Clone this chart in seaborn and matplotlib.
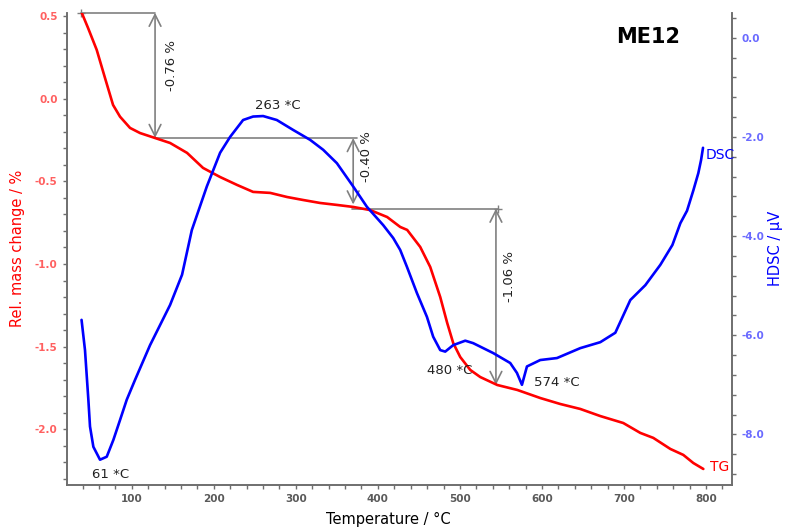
import numpy as np
import pandas as pd
import matplotlib
matplotlib.use("Agg")
import matplotlib.pyplot as plt
from matplotlib.ticker import MultipleLocator, FixedLocator, FormatStrFormatter
import seaborn as sns

# ---------------- data ----------------
tg_temp = [39.0, 46.7, 57.3, 67.4, 77.2, 85.7, 97.9, 110.1, 128.4, 146.7, 167.4, 186.9,
           207.7, 228.4, 247.9, 268.7, 289.4, 308.9, 329.6, 350.4, 369.9, 390.6, 411.3,
           427.2, 435.7, 451.6, 463.8, 476.0, 484.5, 491.8, 500.4, 512.6, 524.8, 545.5,
           569.9, 598.0, 622.3, 646.7, 671.1, 699.1, 719.9, 735.7, 756.5, 772.3, 784.5, 796.7]
tg_mass = [0.520, 0.428, 0.295, 0.125, -0.038, -0.109, -0.177, -0.208, -0.238, -0.268,
           -0.328, -0.419, -0.474, -0.522, -0.564, -0.570, -0.595, -0.613, -0.631, -0.643,
           -0.655, -0.674, -0.716, -0.776, -0.794, -0.897, -1.018, -1.200, -1.357, -1.478,
           -1.563, -1.641, -1.684, -1.732, -1.762, -1.811, -1.847, -1.877, -1.920, -1.962,
           -2.022, -2.052, -2.119, -2.155, -2.204, -2.240]

dsc_temp = [38.8, 43.0, 47.1, 49.1, 53.2, 61.3, 69.5, 77.6, 85.7, 93.9, 104.0, 122.3,
            146.7, 161.3, 173.2, 191.5, 207.7, 219.9, 235.7, 247.9, 260.1, 276.8, 296.7,
            317.4, 333.3, 350.0, 369.9, 386.6, 406.5, 418.7, 427.2, 435.4, 447.6, 459.8,
            467.4, 476.0, 482.1, 491.8, 506.5, 516.2, 540.6, 561.3, 569.5, 575.6, 581.7,
            597.9, 618.3, 646.7, 671.1, 689.4, 707.7, 726.0, 744.3, 759.0, 768.7, 776.8,
            784.5, 790.6, 793.9, 796.3]
dsc_val = [-5.69, -6.30, -7.30, -7.84, -8.25, -8.51, -8.45, -8.11, -7.71, -7.30, -6.90,
           -6.20, -5.39, -4.78, -3.88, -3.00, -2.32, -2.00, -1.66, -1.59, -1.58, -1.66,
           -1.86, -2.06, -2.26, -2.53, -3.00, -3.41, -3.78, -4.04, -4.28, -4.62, -5.15,
           -5.63, -6.03, -6.30, -6.33, -6.20, -6.11, -6.16, -6.36, -6.56, -6.76, -7.00,
           -6.63, -6.50, -6.46, -6.26, -6.14, -5.95, -5.29, -4.99, -4.58, -4.18, -3.74,
           -3.49, -3.08, -2.73, -2.47, -2.22]

# mass-change steps: (temperature of arrow, upper level, lower level, label)
step_temp = [128.4, 369.9, 543.9]
step_top = [0.520, -0.238, -0.665]
step_bottom = [-0.238, -0.640, -1.732]
step_labels = ["-0.76 %", "-0.40 %", "-1.06 %"]
step_hstart = [38.0, 128.4, 369.0]
step_hend = [128.4, 374.0, 546.0]

peak_labels = ["61 *C", "263 *C", "480 *C", "574 *C"]

# ---------------- figure ----------------
sns.set_theme(style="white")
plt.rcParams['font.family'] = ['DejaVu Sans']

fig = plt.figure(figsize=(7.87, 5.30), dpi=100)
ax = fig.add_axes([66.7 / 787, 1 - 485 / 530, (732.3 - 66.7) / 787, (485 - 12.7) / 530])
ax2 = ax.twinx()

tg_df = pd.DataFrame({"T": tg_temp, "m": tg_mass})
dsc_df = pd.DataFrame({"T": dsc_temp, "d": dsc_val})

sns.lineplot(data=tg_df, x="T", y="m", ax=ax, color="#ff0000", lw=1.9, sort=False, zorder=3)
sns.lineplot(data=dsc_df, x="T", y="d", ax=ax2, color="#0000ff", lw=1.9, sort=False, zorder=3)

ax.set_xlim(20.7, 832)
ax.set_ylim(-2.337, 0.520)
ax2.set_ylim(-9.02, 0.504)

# annotations of mass steps
gray = "#808080"
for t, top, bot, lab, hs, he in zip(step_temp, step_top, step_bottom, step_labels,
                                    step_hstart, step_hend):
    ax.plot([hs, he], [top, top], color=gray, lw=1.2, clip_on=False, zorder=2)
    ax.annotate("", xy=(t, bot), xytext=(t, top),
                arrowprops=dict(arrowstyle="<->,head_length=0.7,head_width=0.35",
                                color=gray, lw=1.2, shrinkA=0, shrinkB=0),
                annotation_clip=False, zorder=2)
ax.plot([step_hstart[0]], [step_top[0]], marker="+", color=gray, ms=6, clip_on=False)
ax.plot([step_hend[2]], [step_top[2]], marker="+", color=gray, ms=6, clip_on=False)

ax.text(149, 0.20, step_labels[0], rotation=90, ha="center", va="center", fontsize=9.5, color="#222222")
ax.text(386.6, -0.351, step_labels[1], rotation=90, ha="center", va="center", fontsize=9.5, color="#222222")
ax.text(561, -1.077, step_labels[2], rotation=90, ha="center", va="center", fontsize=9.5, color="#222222")

ax.text(73.6, -2.271, peak_labels[0], ha="center", va="center", fontsize=9.5, color="#222222")
ax.text(278.5, -0.044, peak_labels[1], ha="center", va="center", fontsize=9.5, color="#222222")
ax.text(488, -1.642, peak_labels[2], ha="center", va="center", fontsize=9.5, color="#222222")
ax.text(618, -1.718, peak_labels[3], ha="center", va="center", fontsize=9.5, color="#222222")

ax.text(816.6, -2.23, "TG", ha="center", va="center", fontsize=10, color="#ff0000")
ax2.text(817.4, -2.37, "DSC", ha="center", va="center", fontsize=10, color="#0000ff")
ax.text(729.6, 0.373, "ME12", ha="center", va="center", fontsize=15, fontweight="bold", color="black")

# axes styling
spine_c = "#6e6e6e"
for a in (ax, ax2):
    a.spines["top"].set_visible(False)
    for s in ("left", "right", "bottom"):
        a.spines[s].set_color(spine_c)
        a.spines[s].set_linewidth(1.2)
    a.grid(False)

ax.xaxis.set_major_locator(FixedLocator([100, 200, 300, 400, 500, 600, 700, 800]))
ax.xaxis.set_minor_locator(MultipleLocator(20))
ax.yaxis.set_major_locator(FixedLocator([-2.0, -1.5, -1.0, -0.5, 0.0, 0.5]))
ax.yaxis.set_minor_locator(MultipleLocator(0.1))
ax.yaxis.set_major_formatter(FormatStrFormatter("%.1f"))
ax2.yaxis.set_major_locator(FixedLocator([-8.0, -6.0, -4.0, -2.0, 0.0]))
ax2.yaxis.set_minor_locator(MultipleLocator(0.4))
ax2.yaxis.set_major_formatter(FormatStrFormatter("%.1f"))

ax.tick_params(axis="x", which="both", bottom=True, direction="out", colors=spine_c,
               labelcolor="#5a5a5a", labelsize=7.5, length=3, width=1, pad=3.5)
ax.tick_params(axis="y", which="both", left=True, direction="out", colors=spine_c,
               labelcolor="#ff6060", labelsize=7.5, length=3, width=1, pad=3.5)
ax2.tick_params(axis="y", which="both", right=True, direction="out", colors=spine_c,
                labelcolor="#6a6aff", labelsize=7.5, length=3, width=1, pad=3.5)
for lab in ax.get_xticklabels() + ax.get_yticklabels() + ax2.get_yticklabels():
    lab.set_fontweight("bold")

ax.set_xlabel("Temperature / \u00b0C", fontsize=10.5, color="black", labelpad=6)
ax.xaxis.label.set_x(0.483)
ax.set_ylabel("Rel. mass change / %", fontsize=10.5, color="#ff0000", labelpad=7)
ax2.set_ylabel("HDSC / \u00b5V", fontsize=10.5, color="#0000ff", labelpad=3)

fig.savefig("out.png", dpi=100)
